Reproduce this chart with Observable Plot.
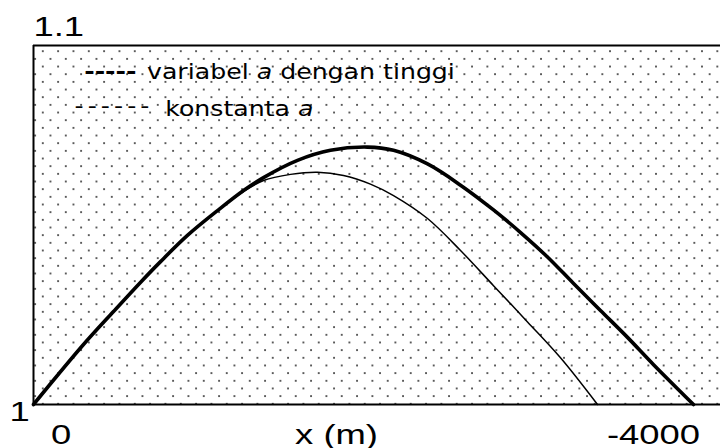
<!DOCTYPE html>
<html><head><meta charset="utf-8">
<script src="https://cdn.jsdelivr.net/npm/d3@7"></script>
<script src="https://cdn.jsdelivr.net/npm/@observablehq/plot@0.6"></script>
<style>html,body{margin:0;padding:0;background:#fff;}</style>
</head><body><div id="chart"></div>
<script>
// Thick curve: "variabel a dengan tinggi"
const thickX = [0,-303,-485,-648,-770,-933,-1115,-1273,-1394,-1600,-1800,-2024,-2182,-2388,-2588,-2788,-2952,-3115,-3273,-3436,-3600,-3758,-4000];
const thickY = [1,1.0167,1.0259,1.0340,1.0398,1.0471,1.0540,1.0596,1.0632,1.0680,1.0708,1.0717,1.0708,1.0670,1.0611,1.0542,1.0479,1.0411,1.0337,1.0262,1.0187,1.0111,1];
// Thin curve: "konstanta a"
const thinX = [0,-303,-485,-648,-770,-933,-1115,-1273,-1394,-1558,-1721,-1879,-2042,-2182,-2388,-2588,-2788,-2994,-3194,-3418];
const thinY = [1,1.0167,1.0259,1.0340,1.0398,1.0471,1.0540,1.0593,1.0624,1.0641,1.0647,1.0638,1.0614,1.0582,1.0518,1.0429,1.0331,1.0230,1.0130,1];

const xTickValues = [0, -4000];
const xTickLabels = ["0", "-4000"];
const yTickValues = [1, 1.1];
const yTickLabels = ["1", "1.1"];
const xLabel = "x (m)";
const legendLabels = ["variabel a dengan tinggi", "konstanta a"];
const legendDashes = ["-----", "------"];

const thick = thickX.map((x, i) => ({x, y: thickY[i]}));
const thin = thinX.map((x, i) => ({x, y: thinY[i]}));

const tickFont = {fontFamily: "Liberation Sans, Arial, sans-serif", fontSize: 28, fill: "black", lineAnchor: "bottom", textAnchor: "start"};
const legFont = {fontFamily: "DejaVu Sans, Verdana, sans-serif", fontSize: 21, fill: "black", lineAnchor: "bottom", textAnchor: "start", frameAnchor: "top-left"};

const chart = Plot.plot({
  width: 720,
  height: 448,
  marginLeft: 33,
  marginRight: 0,
  marginTop: 45,
  marginBottom: 44,
  x: {domain: [xTickValues[0], xTickValues[1]], range: [33, 693], axis: null},
  y: {domain: [yTickValues[0], yTickValues[1]], axis: null},
  marks: [
    Plot.frame({fill: "url(#dotgrid)", stroke: "none"}),
    Plot.ruleY(yTickValues, {stroke: "black", strokeWidth: 2}),
    Plot.ruleX([xTickValues[0]], {stroke: "black", strokeWidth: 2}),
    Plot.line(thin, {x: "x", y: "y", curve: "catmull-rom", stroke: "black", strokeWidth: 1.5}),
    Plot.line(thick, {x: "x", y: "y", curve: "catmull-rom", stroke: "black", strokeWidth: 3.6}),
    // tick labels
    Plot.text([yTickValues[0]], {...tickFont, x: () => xTickValues[0], y: d => d, text: () => yTickLabels[0], dx: -24, dy: 16}),
    Plot.text([yTickValues[1]], {...tickFont, x: () => xTickValues[0], y: d => d, text: () => yTickLabels[1], dx: 0, dy: -10}),
    Plot.text([xTickValues[0]], {...tickFont, x: d => d, y: () => yTickValues[0], text: () => xTickLabels[0], dx: 17.5, dy: 39}),
    Plot.text([xTickValues[1]], {...tickFont, x: d => d, y: () => yTickValues[0], text: () => xTickLabels[1], dx: -86.6, dy: 39}),
    Plot.text([xLabel], {...tickFont, frameAnchor: "bottom-left", text: d => d, dx: 261.6, dy: 39}),
    // legend
    Plot.text([legendDashes[0]], {...legFont, text: d => d, fontWeight: "bold", dx: 50.7, dy: 33.8}),
    Plot.text([legendLabels[0]], {...legFont, text: d => d, dx: 113.5, dy: 33}),
    Plot.text([legendDashes[1]], {...legFont, text: d => d, dx: 41, dy: 67.3}),
    Plot.text([legendLabels[1]], {...legFont, text: d => d, dx: 131.7, dy: 70})
  ]
});

document.getElementById("chart").appendChild(chart);

const svg = d3.select(chart);
const defs = svg.insert("defs", ":first-child");
const pat = defs.append("pattern").attr("id", "dotgrid").attr("patternUnits", "userSpaceOnUse")
  .attr("x", 42.3 - 3.83).attr("y", 50.7 - 3.83).attr("width", 15.33).attr("height", 15.33);
pat.append("circle").attr("cx", 3.83).attr("cy", 3.83).attr("r", 0.9).attr("fill", "#111");
pat.append("circle").attr("cx", 11.5).attr("cy", 11.5).attr("r", 0.9).attr("fill", "#111");

const tickTexts = [...xTickLabels, ...yTickLabels, xLabel];
const allText = svg.selectAll("text");

// italic "a" in legend labels
allText.filter(function() { return legendLabels.includes(this.textContent); }).each(function() {
  const parts = this.textContent.split(/(\ba\b)/);
  this.textContent = "";
  parts.forEach(p => {
    if (!p) return;
    const ts = document.createElementNS("http://www.w3.org/2000/svg", "tspan");
    ts.textContent = p;
    if (p === "a") ts.setAttribute("font-style", "italic");
    this.appendChild(ts);
  });
  this.setAttribute("data-stretch", "1.2");
});
allText.filter(function() { return this.textContent === legendDashes[1]; })
  .attr("letter-spacing", 3.4).attr("data-stretch", "1.2");
allText.filter(function() { return this.textContent === legendDashes[0]; })
  .attr("data-stretch", "1.2");
allText.filter(function() { return tickTexts.includes(this.textContent); })
  .attr("data-stretch", "1.3");

svg.selectAll("text[data-stretch]").each(function() {
  const k = +this.getAttribute("data-stretch");
  const L = this.getComputedTextLength();
  this.setAttribute("textLength", L * k);
  this.setAttribute("lengthAdjust", "spacingAndGlyphs");
});
</script>
</body></html>
